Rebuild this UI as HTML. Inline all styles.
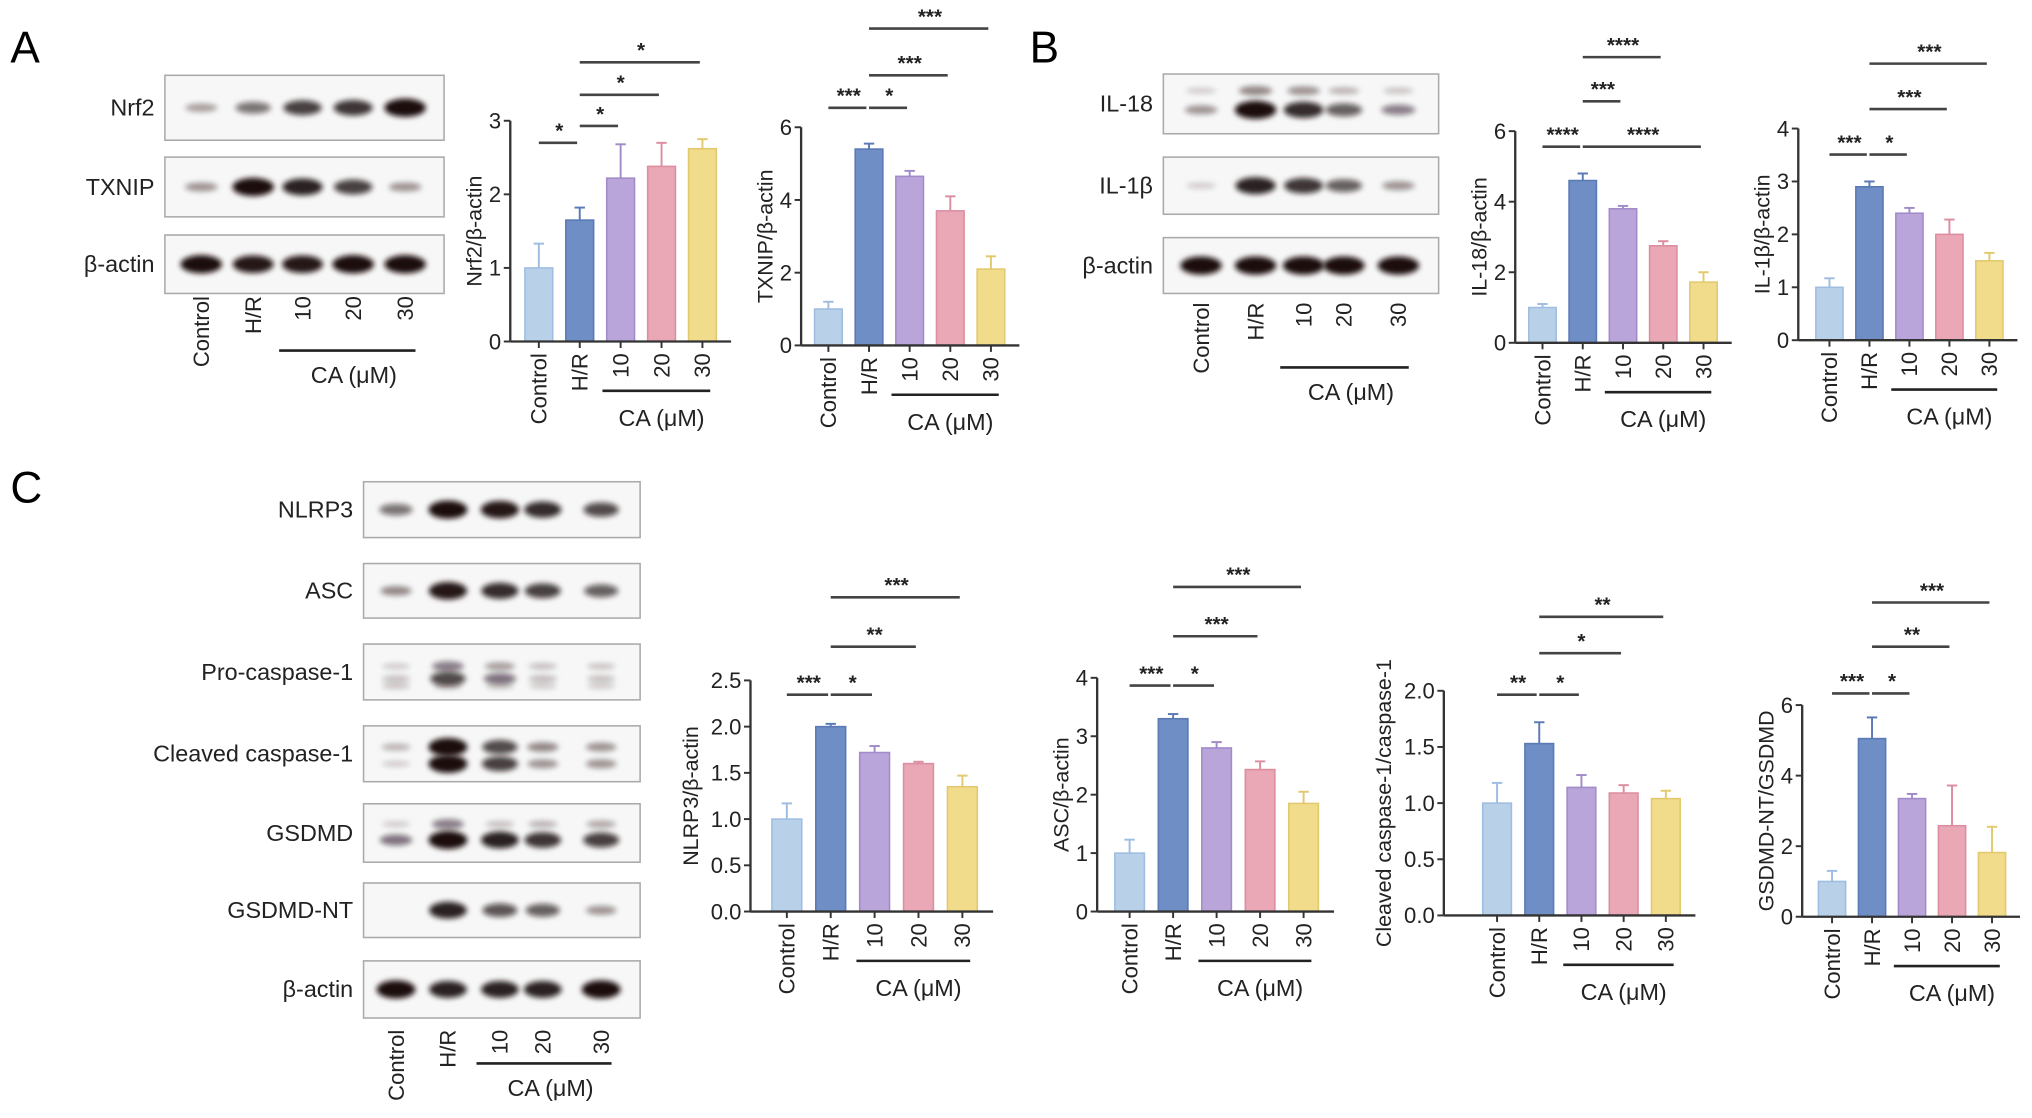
<!DOCTYPE html>
<html><head><meta charset="utf-8"><style>
html,body{margin:0;padding:0;background:#fff;}
svg{display:block;font-family:"Liberation Sans",Arial,sans-serif;}
</style></head><body>
<svg id="fig" xmlns="http://www.w3.org/2000/svg" width="2032" height="1118" viewBox="0 0 1565 861" preserveAspectRatio="none">
<defs><filter id="blur" x="-30%" y="-100%" width="160%" height="300%"><feGaussianBlur stdDeviation="2"/></filter></defs>
<text x="8" y="48" font-size="34">A</text>
<text x="793" y="48" font-size="34">B</text>
<text x="8" y="387" font-size="34">C</text>
<g id="root"></g>
</svg>
<script>
const NS='http://www.w3.org/2000/svg';
const root=document.getElementById('root');
function el(tag,attrs,parent,txt){const e=document.createElementNS(NS,tag);for(const k in attrs)e.setAttribute(k,attrs[k]);if(txt!==undefined)e.textContent=txt;(parent||root).appendChild(e);return e;}

const categories=['Control','H/R','10','20','30'];
const colors=['#b9d0e9','#6f8ec6','#b9a5d9','#eaa7b6','#f1dc8c'];
const strokes=['#9fbde0','#5a79b5','#a28bc9','#dc8ea0','#e2c96e'];

// chart data arrays
const nrf2Values=[1.0,1.65,2.22,2.38,2.62];
const nrf2Errors=[0.33,0.17,0.46,0.32,0.13];
const nrf2Ticks=['0','1','2','3'];
const txnipValues=[1.0,5.4,4.65,3.7,2.1];
const txnipErrors=[0.2,0.15,0.15,0.4,0.35];
const txnipTicks=['0','2','4','6'];
const il18Values=[1.0,4.6,3.8,2.75,1.72];
const il18Errors=[0.1,0.2,0.08,0.13,0.28];
const il18Ticks=['0','2','4','6'];
const il1bValues=[1.0,2.9,2.4,2.0,1.5];
const il1bErrors=[0.17,0.1,0.1,0.28,0.15];
const il1bTicks=['0','1','2','3','4'];
const nlrp3Values=[1.0,2.0,1.72,1.6,1.35];
const nlrp3Errors=[0.17,0.03,0.07,0.02,0.12];
const nlrp3Ticks=['0.0','0.5','1.0','1.5','2.0','2.5'];
const ascValues=[1.0,3.3,2.8,2.43,1.85];
const ascErrors=[0.23,0.08,0.1,0.14,0.2];
const ascTicks=['0','1','2','3','4'];
const cleavedValues=[1.0,1.53,1.14,1.09,1.04];
const cleavedErrors=[0.18,0.19,0.11,0.07,0.07];
const cleavedTicks=['0.0','0.5','1.0','1.5','2.0'];
const gsdmdValues=[1.0,5.05,3.35,2.58,1.82];
const gsdmdErrors=[0.3,0.6,0.13,1.14,0.73];
const gsdmdTicks=['0','2','4','6'];

function chart(o){
  const g=el('g',{});
  
  
  const n=o.ticks.length-1, max=parseFloat(o.ticks[n]);
  const y=v=>o.y0-(v/max)*(o.y0-o.yTop);
  const x=i=>o.x0+o.first+i*o.step;
  const bw=o.step*0.68;
  o.values.forEach((v,i)=>{
    const top=y(v+o.errors[i]);
    el('line',{x1:x(i),x2:x(i),y1:y(v),y2:top,stroke:strokes[i],'stroke-width':1.5},g);
    el('line',{x1:x(i)-4,x2:x(i)+4,y1:top,y2:top,stroke:strokes[i],'stroke-width':1.5},g);
    const r=el('rect',{x:x(i)-bw/2,y:y(v),width:bw,height:o.y0-y(v),fill:colors[i],stroke:strokes[i],'stroke-width':1.2},g);
    
    
  });
  const xEnd=x(4)+o.step*0.7;
  const ax=el('line',{x1:o.x0,x2:o.x0,y1:o.yTop,y2:o.y0,stroke:'#333','stroke-width':1.8},g);
  
  
  const axx=el('line',{x1:o.x0,x2:xEnd,y1:o.y0,y2:o.y0,stroke:'#333','stroke-width':1.8},g);
  
  
  let maxLen=1;
  o.ticks.forEach(t=>{
    maxLen=Math.max(maxLen,t.length);
    const yy=y(parseFloat(t));
    el('line',{x1:o.x0-5,x2:o.x0,y1:yy,y2:yy,stroke:'#333','stroke-width':1.5},g);
    const tl=el('text',{x:o.x0-7,y:yy+6,'font-size':17,'text-anchor':'end',fill:'#222'},g,t);
    
    
  });
  categories.forEach((c,i)=>{
    el('line',{x1:x(i),x2:x(i),y1:o.y0,y2:o.y0+5,stroke:'#333','stroke-width':1.5},g);
    const t=el('text',{transform:`translate(${x(i)+6},${o.y0+9}) rotate(-90)`,'font-size':17,'text-anchor':'end',fill:'#222'},g,c);
    
    
  });
  el('line',{x1:x(2)-14,x2:x(4)+6,y1:o.y0+38,y2:o.y0+38,stroke:'#222','stroke-width':2},g);
  const ca=el('text',{x:(x(2)+x(4))/2,y:o.y0+65,'font-size':18,'text-anchor':'middle',fill:'#222'},g,'CA (\u03bcM)');
  
  
  const labelX=o.x0-10-maxLen*9.2-3;
  const yl=el('text',{transform:`translate(${labelX},${(o.y0+o.yTop)/2}) rotate(-90)`,'font-size':16.5,'text-anchor':'middle',fill:'#222'},g,o.label);
  
  
  o.sig.forEach(s=>{
    const a=x(s[0]), b=x(s[1]);
    el('line',{x1:a,x2:b-2,y1:s[2],y2:s[2],stroke:'#444','stroke-width':2},g);
    const st=el('text',{x:(a+b)/2,y:s[2]-4,'font-size':16,'font-weight':'bold','text-anchor':'middle',fill:'#222'},g,s[3]);
    
    
  });
}

chart({name:'nrf2-chart',values:nrf2Values,errors:nrf2Errors,ticks:nrf2Ticks,x0:393,y0:263,yTop:93,first:22,step:31.5,label:'Nrf2/\u03b2-actin',
  sig:[[0,1,110,'*'],[1,2,97,'*'],[1,3,73,'*'],[1,4,48,'*']]});
chart({name:'txnip-chart',values:txnipValues,errors:txnipErrors,ticks:txnipTicks,x0:617,y0:266,yTop:98,first:21,step:31.3,label:'TXNIP/\u03b2-actin',
  sig:[[0,1,83,'***'],[1,2,83,'*'],[1,3,58,'***'],[1,4,22,'***']]});
chart({name:'il18-chart',values:il18Values,errors:il18Errors,ticks:il18Ticks,x0:1167,y0:264,yTop:101,first:21,step:31,label:'IL-18/\u03b2-actin',
  sig:[[0,1,113,'****'],[1,4,113,'****'],[1,2,78,'***'],[1,3,44,'****']]});
chart({name:'il1b-chart',values:il1bValues,errors:il1bErrors,ticks:il1bTicks,x0:1385,y0:262,yTop:99,first:24,step:30.8,label:'IL-1\u03b2/\u03b2-actin',
  sig:[[0,1,119,'***'],[1,2,119,'*'],[1,3,84,'***'],[1,4,49,'***']]});
chart({name:'nlrp3-chart',values:nlrp3Values,errors:nlrp3Errors,ticks:nlrp3Ticks,x0:578,y0:702,yTop:524,first:28,step:33.8,label:'NLRP3/\u03b2-actin',
  sig:[[0,1,535,'***'],[1,2,535,'*'],[1,3,498,'**'],[1,4,460,'***']]});
chart({name:'asc-chart',values:ascValues,errors:ascErrors,ticks:ascTicks,x0:845,y0:702,yTop:522,first:25,step:33.5,label:'ASC/\u03b2-actin',
  sig:[[0,1,528,'***'],[1,2,528,'*'],[1,3,490,'***'],[1,4,452,'***']]});
chart({name:'cleaved-caspase-chart',values:cleavedValues,errors:cleavedErrors,ticks:cleavedTicks,x0:1112,y0:705,yTop:532,first:41,step:32.5,label:'Cleaved caspase-1/caspase-1',
  sig:[[0,1,535,'**'],[1,2,535,'*'],[1,3,503,'*'],[1,4,475,'**']]});
chart({name:'gsdmd-chart',values:gsdmdValues,errors:gsdmdErrors,ticks:gsdmdTicks,x0:1388,y0:706,yTop:543,first:23,step:30.8,label:'GSDMD-NT/GSDMD',
  sig:[[0,1,534,'***'],[1,2,534,'*'],[1,3,498,'**'],[1,4,464,'***']]});

function blot(o){
  const g=el('g',{});
  
  
  o.rows.forEach(r=>{
    const bx=el('rect',{x:o.x,y:r.y,width:o.w,height:r.h,fill:'#f7f7f7',stroke:'#aaa','stroke-width':1.2},g);
    
    
    const lb=el('text',{x:o.x-8,y:r.y+r.h/2+6,'font-size':18,'text-anchor':'end',fill:'#222'},g,r.label);
    
    
    (r.bands||[[0.5,r.k]]).forEach(bd=>{
      bd[1].forEach((v,i)=>{
        if(v<=0)return;
        el('ellipse',{cx:o.lanes[i],cy:r.y+r.h*bd[0],rx:o.bw*(0.7+0.3*Math.min(v,1)),ry:2+5*v,fill:'#1a0c0e','fill-opacity':Math.min(1,0.15+0.85*v),filter:'url(#blur)'},g);
      });
    });
  });
  categories.forEach((c,i)=>{
    const t=el('text',{transform:`translate(${o.lanes[i]+6},${o.labY}) rotate(-90)`,'font-size':17,'text-anchor':'end',fill:'#222'},g,c);
    
    
  });
  el('line',{x1:o.lanes[2]-18,x2:o.lanes[4]+8,y1:o.lineY,y2:o.lineY,stroke:'#222','stroke-width':2},g);
  el('text',{x:(o.lanes[2]+o.lanes[4])/2,y:o.lineY+25,'font-size':18,'text-anchor':'middle',fill:'#222'},g,'CA (\u03bcM)');
}
blot({name:'western-blot-a',x:127,w:215,lanes:[155,195,233,272,312],bw:16,labY:228,lineY:270,rows:[
  {label:'Nrf2',y:58,h:50,k:[0.25,0.5,0.75,0.8,1.0]},
  {label:'TXNIP',y:121,h:46,k:[0.3,1.0,0.9,0.75,0.3]},
  {label:'\u03b2-actin',y:181,h:45,k:[1,0.95,0.95,1,1]}]});
blot({name:'western-blot-b',x:896,w:212,lanes:[925,967,1004,1035,1077],bw:16,labY:233,lineY:283,rows:[
  {label:'IL-18',y:57,h:46,bands:[[0.6,[0.3,1.0,0.85,0.6,0.4]],[0.28,[0.05,0.35,0.3,0.15,0.08]]]},
  {label:'IL-1\u03b2',y:121,h:44,k:[0.05,0.9,0.8,0.6,0.3]},
  {label:'\u03b2-actin',y:183,h:43,k:[1,1,1,1,1]}]});
blot({name:'western-blot-c',x:280,w:213,lanes:[305,345,385,418,463],bw:15,labY:793,lineY:819,rows:[
  {label:'NLRP3',y:371,h:43,k:[0.5,1,0.95,0.85,0.7]},
  {label:'ASC',y:434,h:42,k:[0.35,0.95,0.85,0.75,0.6]},
  {label:'Pro-caspase-1',y:496,h:43,bands:[[0.4,[0.05,0.4,0.25,0.1,0.08]],[0.62,[0.1,0.7,0.45,0.12,0.1]],[0.75,[0.08,0.1,0.08,0.05,0.05]]]},
  {label:'Cleaved caspase-1',y:559,h:43,bands:[[0.38,[0.15,1,0.7,0.35,0.3]],[0.68,[0.05,1,0.75,0.3,0.3]]]},
  {label:'GSDMD',y:619,h:45,bands:[[0.35,[0.05,0.4,0.1,0.15,0.2]],[0.62,[0.45,1,0.9,0.8,0.75]]]},
  {label:'GSDMD-NT',y:680,h:42,k:[0,0.9,0.65,0.6,0.3]},
  {label:'\u03b2-actin',y:740,h:44,k:[1,0.9,0.9,0.9,1]}]});
</script>
</body></html>
